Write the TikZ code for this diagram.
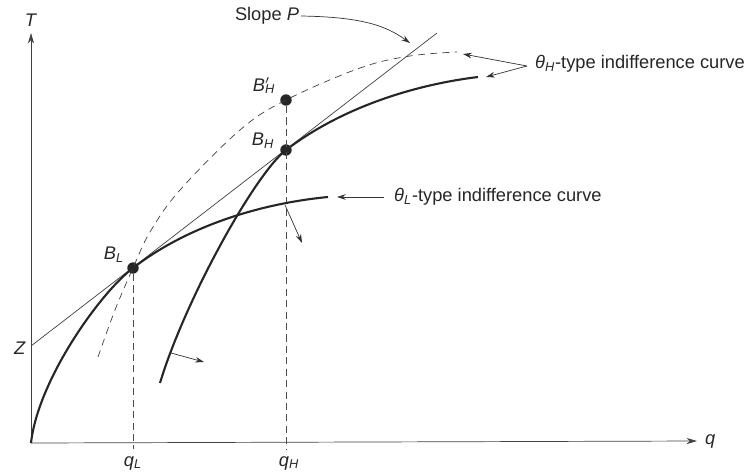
\documentclass[tikz,border=0pt]{standalone}
\usepackage{fontspec}
\setmainfont{Liberation Sans}
\usetikzlibrary{arrows.meta,calc,positioning}
\tikzset{
  axis/.style={thin,draw=black!75},
  curve/.style={line width=1.2pt,draw=black!85},
  hdash/.style={thin,draw=black!75,dash pattern=on 4pt off 3pt},
  guide/.style={thin,draw=black!70,dash pattern=on 4pt off 2.5pt},
  pref/.style={thin,draw=black!80,-{Stealth[length=5pt,width=3.2pt]}},
  pt/.style={circle,fill=black!85,inner sep=0pt,minimum size=6.5pt},
  lbl/.style={font=\fontsize{10.4}{12}\selectfont,inner sep=1pt,text=black!85}
}
\newcommand{\vsub}[2]{\textit{#1}\textsubscript{\textit{#2}}}

\begin{document}
\begin{tikzpicture}[x=0.02cm,y=-0.02cm]
  \useasboundingbox (0,0) rectangle (753,474);
  % axes
  \coordinate (O) at (31,443);
  \coordinate (Tend) at (31,33);
  \coordinate (qend) at (697,441);
  \draw[axis,-{Stealth[length=6pt,width=3.5pt]}] (O) -- (Tend);
  \draw[axis,-{Stealth[length=6pt,width=3.5pt]}] (O) -- (qend);
  \node[lbl] (Tlab) at (31,20) {\textit{T}};
  \node[lbl,anchor=west] (qlab) at (703,441) {\textit{q}};

  % bundles
  \node[pt] (BL) at (133,268) {};
  \node[pt] (BH) at (286,150) {};
  \node[pt] (BHp) at (286,100) {};
  \node[lbl] (BLlab) at (114,255) {\vsub{B}{L}};
  \node[lbl] (BHlab) at (263,141) {\vsub{B}{H}};
  \node[lbl] (BHplab) at (264,86) {\textit{B}\rlap{$^{\prime}$}\textsubscript{\textit{H}}};
  \coordinate (qL) at (133,449);
  \coordinate (qH) at (286,449);
  \node[lbl] (qLlab) at (133,463) {\vsub{q}{L}};
  \node[lbl] (qHlab) at (289,463) {\vsub{q}{H}};
  \draw[guide] (BL) -- (qL);
  \draw[guide] (BHp) -- (qH);

  % price line
  \coordinate (Z) at (31,346);
  \coordinate (Ptop) at (437,33);
  \node[lbl] (Zlab) at (20,348) {\textit{Z}};
  \draw[axis] (Z) -- (Ptop);

  % theta_L curve
  \coordinate (Lend) at (328,197);
  \draw[curve] (O) .. controls (38,380) and (100,293) .. (BL.center)
    .. controls (190,224) and (265,203) .. (Lend);

  % theta_H curves
  \coordinate (Hstart) at (160,383);
  \coordinate (Hend) at (478,77);
  \draw[curve] (Hstart) .. controls (185,300) and (255,174) .. (BH.center)
    .. controls (345,105) and (420,84) .. (Hend);
  \draw[hdash] plot[smooth,tension=0.6] coordinates {(98,357) (115,310) (BL.center)
    (150,232) (180,190) (240,130) (BHp.center) (360,68) (410,56) (457,52)};

  % preference directions
  \coordinate (Lpref) at (285,205);
  \coordinate (Hpref) at (171,353);
  \draw[pref] (Lpref) -- (302,243);
  \draw[pref] (Hpref) -- (204,362);

  % labels
  \node[lbl] (slope) at (267,16) {Slope \textit{P}};
  \draw[pref] (slope.east) .. controls (360,17) and (385,25) .. (410,43);
  \node[lbl,anchor=west] (thH) at (533,64) {\vsub{θ}{H}-type indifference curve};
  \coordinate (Hsrc) at (527,66);
  \draw[pref] (Hsrc) -- (463,54);
  \draw[pref] (Hsrc) -- (486,77);
  \node[lbl,anchor=west] (thL) at (392,197) {\vsub{θ}{L}-type indifference curve};
  \draw[pref] (384,197) -- (337,197);
\end{tikzpicture}
\end{document}
